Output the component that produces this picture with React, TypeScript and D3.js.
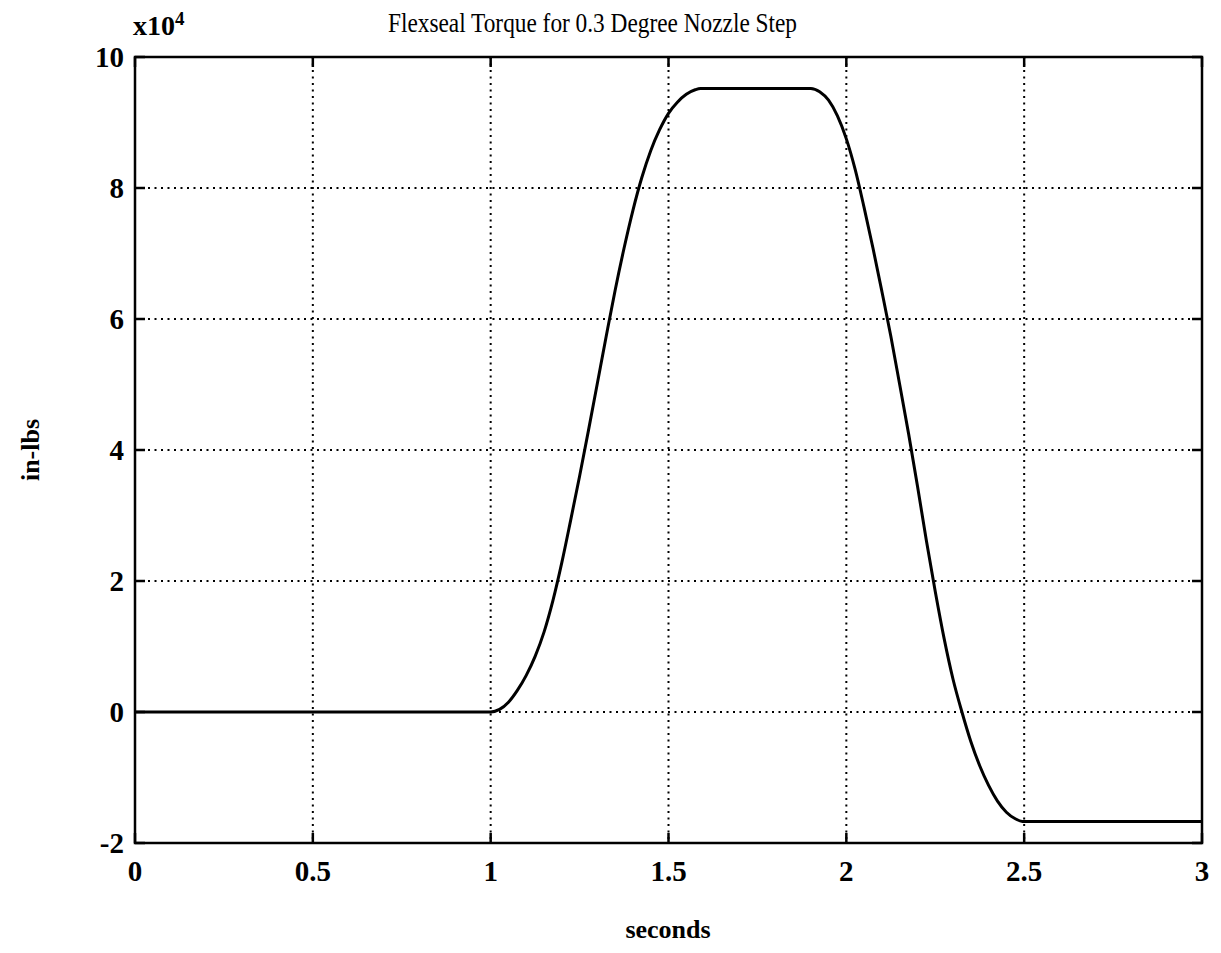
import React from "react";
import * as d3 from "d3";

const title = "Flexseal Torque for 0.3 Degree Nozzle Step";
const xLabel = "seconds";
const yLabel = "in-lbs";
const xTicks = [0, 0.5, 1, 1.5, 2, 2.5, 3];
const xTickLabels = ["0", "0.5", "1", "1.5", "2", "2.5", "3"];
const yTicks = [-2, 0, 2, 4, 6, 8, 10];
const yTickLabels = ["-2", "0", "2", "4", "6", "8", "10"];

// time (s)
const times = [
  0, 0.5, 1.0,
  1.025, 1.05, 1.075, 1.1, 1.125, 1.15, 1.175, 1.2, 1.225, 1.25, 1.275, 1.3, 1.325, 1.35, 1.375, 1.4,
  1.425, 1.45, 1.475, 1.5, 1.525, 1.55, 1.575, 1.59,
  1.75, 1.9,
  1.925, 1.95, 1.975, 2.0, 2.025, 2.05, 2.075, 2.1, 2.125, 2.15, 2.175, 2.2, 2.225, 2.25, 2.275, 2.3,
  2.325, 2.35, 2.375, 2.4, 2.425, 2.45, 2.475, 2.495,
  2.75, 3.0,
];
// torque (x10^4 in-lbs)
const torque = [
  0, 0, 0,
  0.04, 0.15, 0.33, 0.56, 0.85, 1.22, 1.7, 2.28, 2.93, 3.6, 4.3, 5.02, 5.74, 6.44, 7.08, 7.66,
  8.16, 8.57, 8.89, 9.14, 9.31, 9.43, 9.5, 9.52,
  9.52, 9.52,
  9.47, 9.34, 9.1, 8.75, 8.28, 7.7, 7.08, 6.42, 5.74, 5.0, 4.25, 3.45, 2.62, 1.84, 1.12, 0.5,
  0.0, -0.45, -0.82, -1.12, -1.36, -1.53, -1.63, -1.67,
  -1.67, -1.67,
];

const W = 1221;
const H = 953;
const L = 135, R = 1202, T = 57, B = 843;

export default function App() {
  const x = d3.scaleLinear().domain([0, 3]).range([L, R]);
  const y = d3.scaleLinear().domain([-2, 10]).range([B, T]);
  const pts = times.map((t, i) => [t, torque[i]] as [number, number]);
  const line = d3
    .line<[number, number]>()
    .x((d) => x(d[0]))
    .y((d) => y(d[1]))
    .curve(d3.curveMonotoneX);
  const serif = "'Liberation Serif', 'Times New Roman', serif";
  const tickLen = 10;
  return (
    <svg width={W} height={H} style={{ position: "absolute", left: 0, top: 0, background: "#fff" }}>
      <rect x={0} y={0} width={W} height={H} fill="#fff" />
      {/* grid */}
      {xTicks.slice(1, -1).map((t) => (
        <line key={"gx" + t} x1={x(t)} x2={x(t)} y1={T} y2={B} stroke="#000" strokeWidth={2} strokeDasharray="2,4.5" />
      ))}
      {yTicks.slice(1, -1).map((t) => (
        <line key={"gy" + t} x1={L} x2={R} y1={y(t)} y2={y(t)} stroke="#000" strokeWidth={2} strokeDasharray="2,4.5" />
      ))}
      {/* ticks */}
      {xTicks.map((t) => (
        <g key={"tx" + t}>
          <line x1={x(t)} x2={x(t)} y1={B} y2={B - tickLen} stroke="#000" strokeWidth={2.5} />
          <line x1={x(t)} x2={x(t)} y1={T} y2={T + tickLen} stroke="#000" strokeWidth={2.5} />
        </g>
      ))}
      {yTicks.map((t) => (
        <g key={"ty" + t}>
          <line x1={L} x2={L + tickLen} y1={y(t)} y2={y(t)} stroke="#000" strokeWidth={2.5} />
          <line x1={R} x2={R - tickLen} y1={y(t)} y2={y(t)} stroke="#000" strokeWidth={2.5} />
        </g>
      ))}
      {/* data */}
      <path d={line(pts) || ""} fill="none" stroke="#000" strokeWidth={3} strokeLinejoin="round" />
      {/* frame */}
      <rect x={L} y={T} width={R - L} height={B - T} fill="none" stroke="#000" strokeWidth={2.5} />
      {/* tick labels */}
      {xTicks.map((t, i) => (
        <text key={"lx" + t} x={x(t)} y={881} textAnchor="middle" fontFamily={serif} fontWeight="bold" fontSize={29}>
          {xTickLabels[i]}
        </text>
      ))}
      {yTicks.map((t, i) => (
        <text key={"ly" + t} x={124} y={y(t) + 10} textAnchor="end" fontFamily={serif} fontWeight="bold" fontSize={29}>
          {yTickLabels[i]}
        </text>
      ))}
      {/* exponent */}
      <text x={133} y={35} fontFamily={serif} fontWeight="bold" fontSize={28}>
        x10
        <tspan dy={-10} fontSize={19}>4</tspan>
      </text>
      {/* title */}
      <text x={388} y={32} fontFamily={serif} fontSize={28} textLength={409} lengthAdjust="spacingAndGlyphs">
        {title}
      </text>
      {/* axis labels */}
      <text x={668} y={938} textAnchor="middle" fontFamily={serif} fontWeight="bold" fontSize={26}>
        {xLabel}
      </text>
      <text
        transform={`translate(39, ${(T + B) / 2}) rotate(-90)`}
        textAnchor="middle"
        fontFamily={serif}
        fontWeight="bold"
        fontSize={26}
      >
        {yLabel}
      </text>
    </svg>
  );
}
